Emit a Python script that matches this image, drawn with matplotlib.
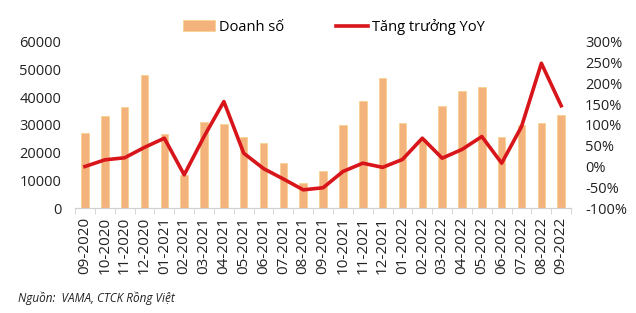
import numpy as np
import matplotlib.pyplot as plt
from matplotlib.ticker import FuncFormatter

plt.rcParams['font.family'] = ['Open Sans', 'DejaVu Sans']

thang = ['09-2020', '10-2020', '11-2020', '12-2020', '01-2021', '02-2021',
         '03-2021', '04-2021', '05-2021', '06-2021', '07-2021', '08-2021',
         '09-2021', '10-2021', '11-2021', '12-2021', '01-2022', '02-2022',
         '03-2022', '04-2022', '05-2022', '06-2022', '07-2022', '08-2022',
         '09-2022']
doanh_so = [27200, 33200, 36300, 47900, 26700, 12000, 31000, 30200, 25700,
            23600, 16400, 8900, 13500, 30000, 38700, 47000, 30800, 25000,
            36800, 42300, 43800, 25500, 30000, 30800, 33600]
yoy = [0, 16, 21, 46, 68, -20, 72, 156, 32, -5, -30, -56, -51, -12, 8, -2,
       17, 68, 20, 41, 72, 8, 96, 248, 146]

x = np.arange(len(thang))

fig = plt.figure(figsize=(6.36, 3.13), dpi=100)
ax = fig.add_axes([0.118, 0.335, 0.78, 0.532])
ax2 = ax.twinx()

b = ax.bar(x, doanh_so, width=0.38, color='#F4B27C', edgecolor='#F7D08A',
           linewidth=0.5, label='Doanh số', zorder=2)
l, = ax2.plot(x, yoy, color='#D7151B', linewidth=2.6, label='Tăng trưởng YoY',
              zorder=3)

ax.set_xlim(-0.5, len(thang) - 0.5)
ax.set_ylim(0, 60000)
ax.set_yticks(np.arange(0, 60001, 10000))
ax2.set_ylim(-100, 300)
ax2.set_yticks(np.arange(-100, 301, 50))
ax2.yaxis.set_major_formatter(FuncFormatter(lambda v, p: '%d%%' % v))

ax.set_xticks(x)
ax.set_xticklabels(thang, rotation=90, fontsize=11, color='#222222')
ax.set_xticks(np.arange(-0.5, len(thang), 1), minor=True)
ax.tick_params(axis='x', which='major', length=0, pad=6)
ax.tick_params(axis='x', which='minor', length=4, color='#d0d0d0')
ax.tick_params(axis='y', length=0, labelsize=10.5, colors='#222222', pad=10)
ax2.tick_params(axis='y', length=0, labelsize=10.5, colors='#222222', pad=10)

for a in (ax, ax2):
    for s in ('top', 'left', 'right'):
        a.spines[s].set_visible(False)
    a.spines['bottom'].set_color('#d0d0d0')

ax.set_zorder(ax2.get_zorder() - 1)
ax2.patch.set_visible(False)

fig.legend([b, l], ['Doanh số', 'Tăng trưởng YoY'], loc='center',
           bbox_to_anchor=(0.525, 0.915), ncol=2, frameon=False, fontsize=10.5,
           handlelength=2.2, columnspacing=3.5, handletextpad=0.3)

fig.text(0.028, 0.035, 'Nguồn:  VAMA, CTCK Rồng Việt', fontsize=8.5,
         style='italic', color='#222222')

fig.savefig('out.png', dpi=100)
